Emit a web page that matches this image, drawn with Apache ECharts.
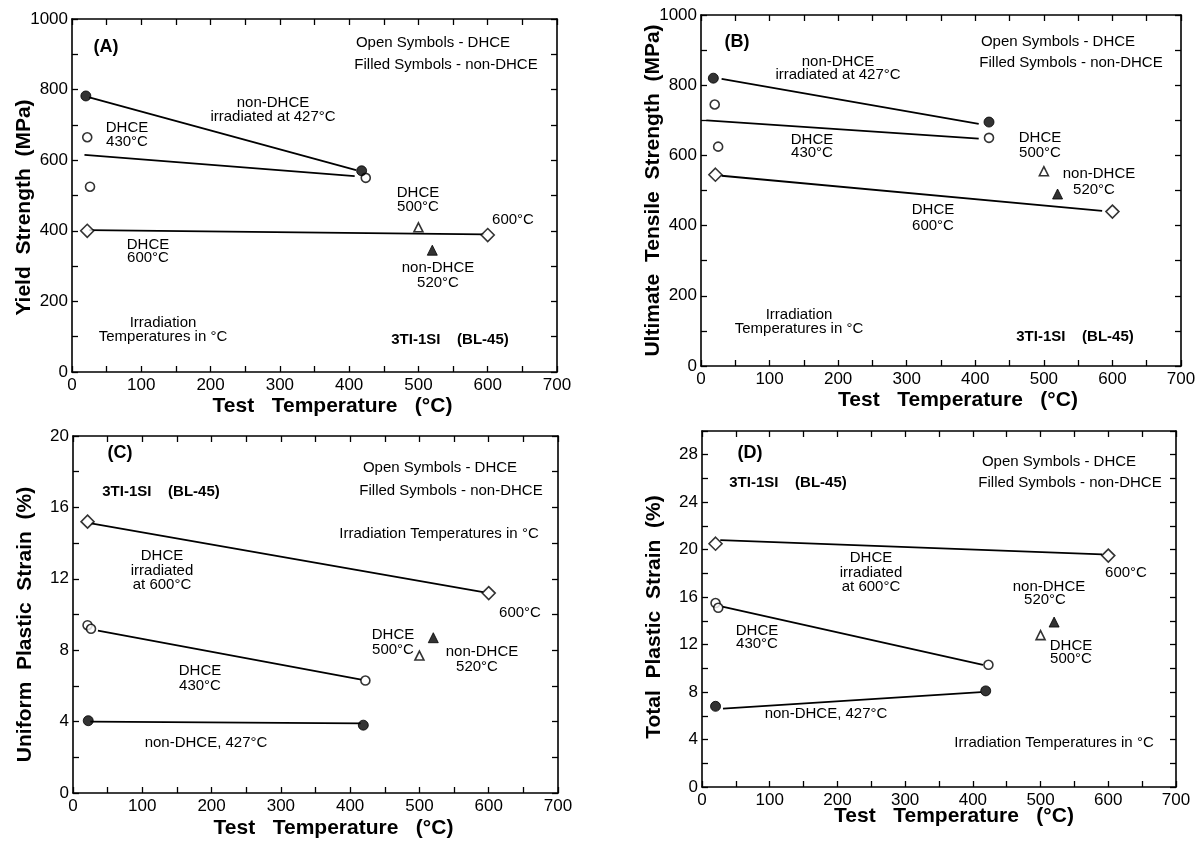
<!DOCTYPE html>
<html><head><meta charset="utf-8">
<script src="https://cdn.jsdelivr.net/npm/echarts/dist/echarts.min.js"></script>
<style>html,body{margin:0;padding:0;background:#fff}#c{width:1201px;height:844px}</style>
</head><body><div id="c"></div>
<script>
// ---------------- DATA ----------------
// x: test temperature (°C)
const xMin = 0, xMax = 700, xTickStep = 50, xLabelStep = 100;

// Panel A: Yield Strength (MPa)
const A_dhce430 = [[22, 665], [26, 525], [424, 550]];
const A_dhce600 = [[22, 400], [600, 388]];
const A_dhce500 = [[500, 410]];
const A_non427  = [[20, 782], [418, 570]];
const A_non520  = [[520, 345]];
const A_fit427  = [[25, 778], [410, 572]];
const A_fit430  = [[18, 615], [408, 555]];
const A_fit600  = [[25, 402], [595, 390]];

// Panel B: Ultimate Tensile Strength (MPa)
const B_dhce430 = [[20, 745], [25, 625], [420, 650]];
const B_dhce600 = [[21, 545], [600, 440]];
const B_dhce500 = [[500, 555]];
const B_non427  = [[18, 820], [420, 695]];
const B_non520  = [[520, 490]];
const B_fit427  = [[30, 818], [405, 690]];
const B_fit430  = [[8, 700], [405, 648]];
const B_fit600  = [[30, 542], [585, 442]];

// Panel C: Uniform Plastic Strain (%)
const C_dhce430 = [[21, 9.4], [26, 9.2], [422, 6.3]];
const C_dhce600 = [[21, 15.2], [600, 11.2]];
const C_dhce500 = [[500, 7.7]];
const C_non427  = [[22, 4.05], [419, 3.8]];
const C_non520  = [[520, 8.7]];
const C_fit600  = [[26, 15.1], [592, 11.25]];
const C_fit430  = [[36, 9.1], [416, 6.35]];
const C_fit427  = [[25, 4.0], [415, 3.9]];

// Panel D: Total Plastic Strain (%)
const D_dhce430 = [[20, 15.5], [24, 15.1], [423, 10.3]];
const D_dhce600 = [[20, 20.5], [600, 19.5]];
const D_dhce500 = [[500, 12.8]];
const D_non427  = [[20, 6.8], [419, 8.1]];
const D_non520  = [[520, 13.9]];
const D_fit600  = [[27, 20.8], [591, 19.6]];
const D_fit430  = [[30, 15.2], [415, 10.3]];
const D_fit427  = [[31, 6.6], [412, 8.0]];

// y-axis ranges: tick step and labelled step
const yRanges = [
  {min: 0, max: 1000, tick: 100, label: 200, lastLabel: 1000},
  {min: 0, max: 1000, tick: 100, label: 200, lastLabel: 1000},
  {min: 0, max: 20, tick: 2, label: 4, lastLabel: 20},
  {min: 0, max: 30, tick: 2, label: 4, lastLabel: 28}
];
const yTitles = ['Yield  Strength  (MPa)', 'Ultimate  Tensile  Strength  (MPa)',
                 'Uniform  Plastic  Strain  (%)', 'Total  Plastic  Strain  (%)'];
const xTitle = 'Test   Temperature   (°C)';

// ---------------- LAYOUT ----------------
const grids = [
  {left: 72, top: 19, width: 485, height: 353},
  {left: 701, top: 15, width: 480, height: 351},
  {left: 73, top: 436, width: 485, height: 357},
  {left: 702, top: 431, width: 474, height: 356}
];
const xNameGap = [24, 24, 25, 19];
const xNamePad = [36, 34, 36, 30];
const yNamePad = [24, 0, 20, 16];

const FONT = '"Liberation Sans", Arial, Helvetica, sans-serif';

const panels = [
  {open430: A_dhce430, open600: A_dhce600, open500: A_dhce500, fill427: A_non427, fill520: A_non520, fits: [A_fit427, A_fit430, A_fit600]},
  {open430: B_dhce430, open600: B_dhce600, open500: B_dhce500, fill427: B_non427, fill520: B_non520, fits: [B_fit427, B_fit430, B_fit600]},
  {open430: C_dhce430, open600: C_dhce600, open500: C_dhce500, fill427: C_non427, fill520: C_non520, fits: [C_fit427, C_fit430, C_fit600]},
  {open430: D_dhce430, open600: D_dhce600, open500: D_dhce500, fill427: D_non427, fill520: D_non520, fits: [D_fit427, D_fit430, D_fit600]}
];

// annotation texts: [text, centerX, centerY, bold]
const notes = [
  ['(A)', 106, 47, 1],
  ['Open Symbols - DHCE', 433, 43], ['Filled Symbols - non-DHCE', 446, 65],
  ['non-DHCE', 273, 103], ['irradiated at 427°C', 273, 117],
  ['DHCE', 127, 128], ['430°C', 127, 142],
  ['DHCE', 418, 193], ['500°C', 418, 207],
  ['600°C', 513, 220],
  ['DHCE', 148, 245], ['600°C', 148, 258],
  ['non-DHCE', 438, 268], ['520°C', 438, 283],
  ['Irradiation', 163, 323], ['Temperatures in °C', 163, 337],
  ['3TI-1SI    (BL-45)', 450, 340, 1],

  ['(B)', 737, 42, 1],
  ['Open Symbols - DHCE', 1058, 42], ['Filled Symbols - non-DHCE', 1071, 63],
  ['non-DHCE', 838, 62], ['irradiated at 427°C', 838, 75],
  ['DHCE', 812, 140], ['430°C', 812, 153],
  ['DHCE', 1040, 138], ['500°C', 1040, 153],
  ['non-DHCE', 1099, 174], ['520°C', 1094, 190],
  ['DHCE', 933, 210], ['600°C', 933, 226],
  ['Irradiation', 799, 315], ['Temperatures in °C', 799, 329],
  ['3TI-1SI    (BL-45)', 1075, 337, 1],

  ['(C)', 120, 453, 1],
  ['3TI-1SI    (BL-45)', 161, 492, 1],
  ['Open Symbols - DHCE', 440, 468], ['Filled Symbols - non-DHCE', 451, 491],
  ['Irradiation Temperatures in °C', 439, 534],
  ['DHCE', 162, 556], ['irradiated', 162, 571], ['at 600°C', 162, 585],
  ['600°C', 520, 613],
  ['DHCE', 393, 635], ['500°C', 393, 650],
  ['non-DHCE', 482, 652], ['520°C', 477, 667],
  ['DHCE', 200, 671], ['430°C', 200, 686],
  ['non-DHCE, 427°C', 206, 743],

  ['(D)', 750, 453, 1],
  ['3TI-1SI    (BL-45)', 788, 483, 1],
  ['Open Symbols - DHCE', 1059, 462], ['Filled Symbols - non-DHCE', 1070, 483],
  ['DHCE', 871, 558], ['irradiated', 871, 573], ['at 600°C', 871, 587],
  ['600°C', 1126, 573],
  ['non-DHCE', 1049, 587], ['520°C', 1045, 600],
  ['DHCE', 757, 631], ['430°C', 757, 644],
  ['DHCE', 1071, 646], ['500°C', 1071, 659],
  ['non-DHCE, 427°C', 826, 714],
  ['Irradiation Temperatures in °C', 1054, 743]
];

// ---------------- BUILD ----------------
const black = '#000';
const mkTick = () => ({show: true, inside: true, length: 6, lineStyle: {color: black, width: 1.3}});
const mkLine = () => ({show: true, onZero: false, lineStyle: {color: black, width: 1.6}});

const xAxes = [], yAxes = [], series = [];
grids.forEach((g, i) => {
  xAxes.push({
    gridIndex: i, type: 'value', min: xMin, max: xMax, interval: xTickStep, position: 'bottom',
    axisLine: mkLine(), axisTick: mkTick(), splitLine: {show: false},
    axisLabel: {fontFamily: FONT, fontSize: 17, color: black, margin: 5, hideOverlap: false,
      formatter: v => (v % xLabelStep === 0 ? String(v) : '')},
    name: xTitle, nameLocation: 'middle', nameGap: xNameGap[i], nameMoveOverlap: false,
    nameTextStyle: {fontFamily: FONT, fontSize: 21, fontWeight: 'bold', color: black, padding: [0, 0, 0, xNamePad[i]]}
  });
  xAxes.push({
    gridIndex: i, type: 'value', min: xMin, max: xMax, interval: xTickStep, position: 'top',
    axisLine: mkLine(), axisTick: mkTick(), splitLine: {show: false},
    axisLabel: {show: false}
  });
  const yr = yRanges[i];
  yAxes.push({
    gridIndex: i, type: 'value', min: yr.min, max: yr.max, interval: yr.tick, position: 'left',
    axisLine: mkLine(), axisTick: mkTick(), splitLine: {show: false},
    axisLabel: {fontFamily: FONT, fontSize: 17, color: black, margin: 4, hideOverlap: false,
      formatter: v => (v % yr.label === 0 && v <= yr.lastLabel ? String(v) : '')},
    name: yTitles[i], nameLocation: 'middle', nameGap: 37, nameMoveOverlap: false,
    nameTextStyle: {fontFamily: FONT, fontSize: 21, fontWeight: 'bold', color: black, padding: [0, yNamePad[i], 0, 0]}
  });
  yAxes.push({
    gridIndex: i, type: 'value', min: yr.min, max: yr.max, interval: yr.tick, position: 'right',
    axisLine: mkLine(), axisTick: mkTick(), splitLine: {show: false},
    axisLabel: {show: false}
  });

  const p = panels[i];
  const xi = 2 * i, yi = 2 * i;
  p.fits.forEach(f => {
    series.push({type: 'line', xAxisIndex: xi, yAxisIndex: yi, data: f, symbol: 'none', z: 2,
      lineStyle: {color: black, width: 1.8}, silent: true});
  });
  const openStyle = {color: '#fff', borderColor: black, borderWidth: 1.6};
  const fillStyle = {color: black, borderColor: black, borderWidth: 1};
  series.push({type: 'scatter', name: 'DHCE 430°C', xAxisIndex: xi, yAxisIndex: yi, data: p.open430, symbol: 'circle', symbolSize: 9, itemStyle: openStyle, z: 5});
  series.push({type: 'scatter', name: 'DHCE 600°C', xAxisIndex: xi, yAxisIndex: yi, data: p.open600, symbol: 'diamond', symbolSize: 13, itemStyle: openStyle, z: 5});
  series.push({type: 'scatter', name: 'DHCE 500°C', xAxisIndex: xi, yAxisIndex: yi, data: p.open500, symbol: 'triangle', symbolSize: 9, itemStyle: openStyle, z: 5});
  series.push({type: 'scatter', name: 'non-DHCE 427°C', xAxisIndex: xi, yAxisIndex: yi, data: p.fill427, symbol: 'circle', symbolSize: 10, itemStyle: fillStyle, z: 5});
  series.push({type: 'scatter', name: 'non-DHCE 520°C', xAxisIndex: xi, yAxisIndex: yi, data: p.fill520, symbol: 'triangle', symbolSize: 10, itemStyle: fillStyle, z: 5});
});

const graphic = notes.map(n => ({
  type: 'text', x: n[1], y: n[2], z: 10, silent: true,
  style: {text: n[0], fill: black, font: (n[3] ? 'bold ' : '') + (n[3] && n[0].startsWith('(') ? 18 : 15) + 'px ' + FONT,
          textAlign: 'center', textVerticalAlign: 'middle'}
}));

const chart = echarts.init(document.getElementById('c'), null, {renderer: 'canvas'});
chart.setOption({
  animation: false,
  backgroundColor: '#fff',
  grid: grids.map(g => Object.assign({containLabel: false}, g)),
  xAxis: xAxes,
  yAxis: yAxes,
  series: series,
  graphic: graphic
});
</script>
</body></html>
